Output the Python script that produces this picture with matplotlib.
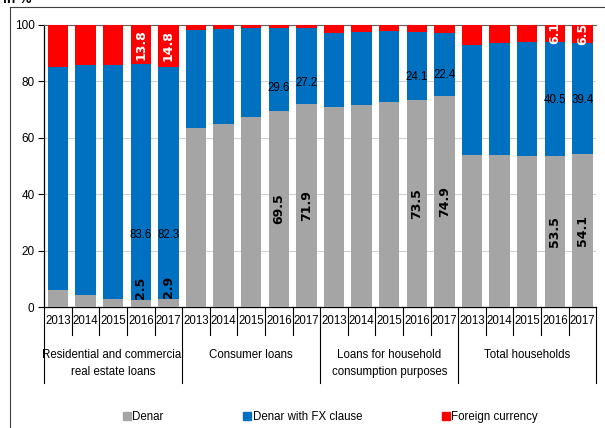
import matplotlib
matplotlib.use("Agg")
import matplotlib.pyplot as plt
import matplotlib.transforms as mtransforms
from matplotlib.lines import Line2D
import numpy as np

# ---- data ----
groups = ["Residential and commercial\nreal estate loans", "Consumer loans",
          "Loans for household\nconsumption purposes", "Total households"]
years = ["2013", "2014", "2015", "2016", "2017"]
series_names = ["Denar", "Denar with FX clause", "Foreign currency"]

denar = [6.0, 4.2, 2.8, 2.5, 2.9,
         63.5, 64.8, 67.3, 69.5, 71.9,
         70.9, 71.5, 72.7, 73.5, 74.9,
         53.9, 53.9, 53.7, 53.5, 54.1]
fx_clause = [79.2, 81.6, 83.0, 83.6, 82.3,
             34.7, 33.8, 31.6, 29.6, 27.2,
             26.1, 26.1, 25.2, 24.1, 22.4,
             39.0, 39.6, 40.2, 40.5, 39.4]
foreign = [14.8, 14.2, 14.2, 13.8, 14.8,
           1.8, 1.4, 1.1, 0.9, 0.9,
           3.0, 2.4, 2.1, 2.4, 2.7,
           7.1, 6.5, 6.1, 6.1, 6.5]
# which bars carry value labels (the 2016 and 2017 bars)
labelled_years = ["2016", "2017"]
yticks = [0, 20, 40, 60, 80, 100]

colors = ["#A5A5A5", "#0070C0", "#FF0000"]

SANS = ["Liberation Sans", "DejaVu Sans"]
FS = 8.3

fig = plt.figure(figsize=(6.05, 4.28), dpi=100)
ax = fig.add_axes([0.0732, 0.2827, 0.9124, 0.6589])

n = len(denar)
x = np.arange(n)
d = np.array(denar)
c = np.array(fx_clause)
f = np.array(foreign)
w = 0.74
ax.bar(x, d, w, color=colors[0], zorder=3)
ax.bar(x, c, w, bottom=d, color=colors[1], zorder=3)
ax.bar(x, f, w, bottom=d + c, color=colors[2], zorder=3)

ax.set_xlim(-0.5, n - 0.5)
ax.set_ylim(0, 100)
ax.set_yticks(yticks)
ax.set_yticklabels([str(t) for t in yticks], fontfamily=SANS, fontsize=8.5)
ax.tick_params(axis="y", length=4, width=0.8, pad=3, color="black")
ax.set_xticks([])
ax.grid(axis="y", color="#D0D0D0", linewidth=0.8, zorder=0)
ax.spines["right"].set_visible(False)
ax.spines["top"].set_color("#606060")
ax.spines["top"].set_linewidth(0.8)
ax.spines["left"].set_linewidth(0.9)
ax.spines["bottom"].set_linewidth(0.9)

# ---- value labels ----
clause_frac = [0.275, 0.28, 0.33, 0.49]
for i in range(n):
    g, yi = divmod(i, len(years))
    if years[yi] not in labelled_years:
        continue
    # denar (bold, rotated)
    if d[i] < 10:
        ax.text(x[i], d[i] + 0.3, f"{d[i]:.1f}", rotation=90, ha="center", va="bottom",
                fontsize=9, fontweight="bold", color="black", zorder=5)
    else:
        ax.text(x[i], d[i] / 2, f"{d[i]:.1f}", rotation=90, ha="center", va="center",
                fontsize=9, fontweight="bold", color="black", zorder=5)
    # FX clause
    ax.text(x[i], d[i] + c[i] * clause_frac[g], f"{c[i]:.1f}", ha="center", va="center",
            fontsize=FS, fontfamily=SANS, color="black", zorder=5)
    # foreign currency
    if f[i] > 4:
        ax.text(x[i], d[i] + c[i] + f[i] / 2, f"{f[i]:.1f}", rotation=90, ha="center",
                va="center", fontsize=9, fontweight="bold", color="white", zorder=5)

# ---- multi-level category axis ----
trans = mtransforms.blended_transform_factory(ax.transData, ax.transAxes)
ax_h_px = 0.6589 * 428
yr_len = 28 / ax_h_px
grp_len = 76 / ax_h_px
for i in range(n + 1):
    is_grp = (i % len(years) == 0)
    ax.add_line(Line2D([i - 0.5, i - 0.5], [0, -(grp_len if is_grp else yr_len)],
                       transform=trans, color="black", linewidth=0.8, clip_on=False))
for i in range(n):
    ax.text(x[i], -13.5 / ax_h_px, years[i % len(years)], transform=trans, ha="center",
            va="center", fontsize=FS, fontfamily=SANS)
for g, name in enumerate(groups):
    xc = g * len(years) + (len(years) - 1) / 2
    ax.text(xc, -42 / ax_h_px, name, transform=trans, ha="center", va="top",
            fontsize=FS, fontfamily=SANS, linespacing=1.55)

# ---- legend ----
handles = [Line2D([], [], marker="s", linestyle="none", markersize=6,
                  markerfacecolor=col, markeredgecolor=col) for col in colors]
leg = fig.legend(handles, series_names, loc="center", bbox_to_anchor=(0.547, 1 - 417 / 428),
                 ncol=3, frameon=False, handlelength=0.5, handletextpad=0.2,
                 columnspacing=7.0, prop={"family": SANS, "size": FS})

# ---- outer frame and cut title ----
fig.add_artist(Line2D([10 / 605, 10 / 605], [0, 1 - 7 / 428], transform=fig.transFigure,
                      color="#404040", linewidth=0.8))
fig.add_artist(Line2D([10 / 605, 1], [1 - 7 / 428, 1 - 7 / 428], transform=fig.transFigure,
                      color="#404040", linewidth=0.8))
fig.text(3 / 605, 1 - 3 / 428, "in %", ha="left", va="baseline", fontsize=10,
         fontweight="bold", fontfamily=SANS)

fig.savefig("out.png", dpi=100)
